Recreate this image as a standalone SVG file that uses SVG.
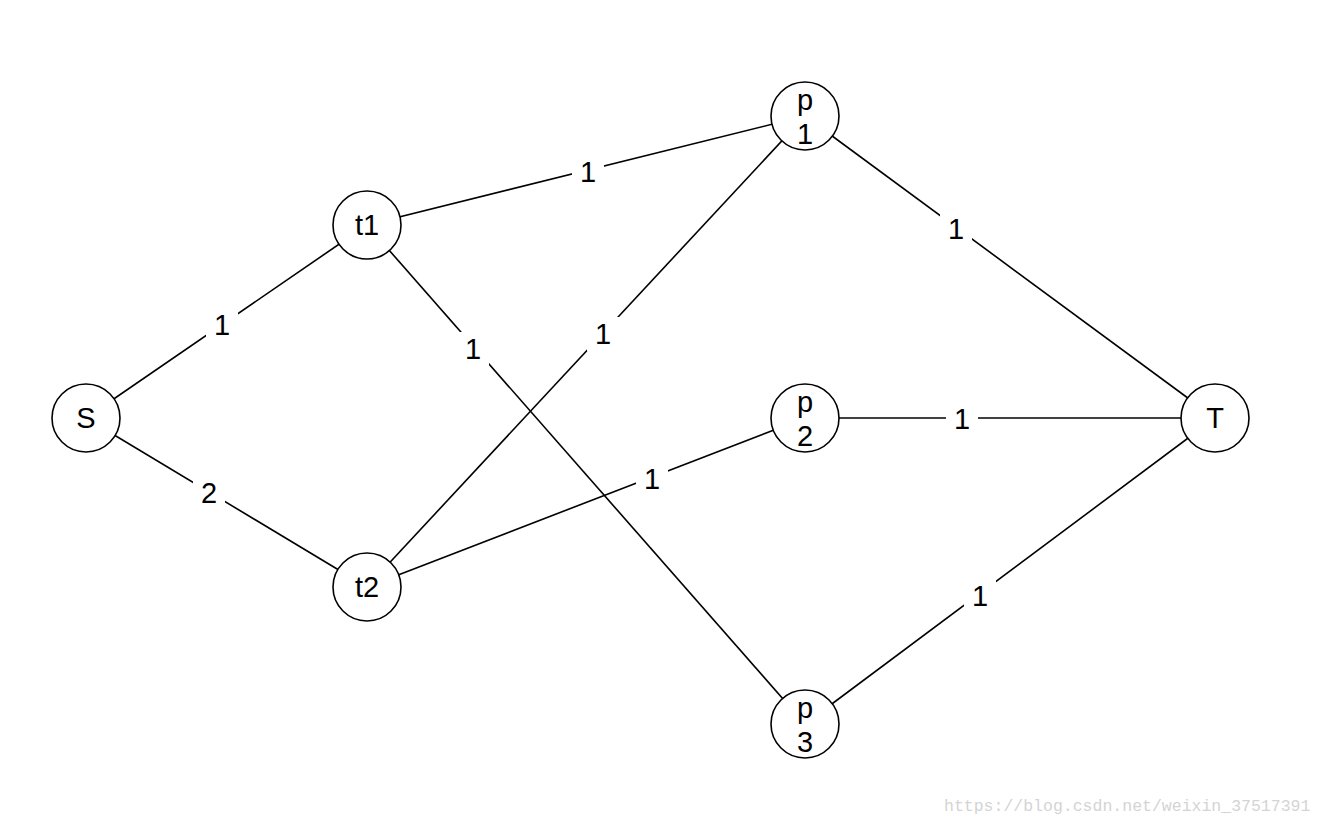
<svg xmlns="http://www.w3.org/2000/svg" width="1322" height="826" viewBox="0 0 1322 826">
<style>
.edge{stroke:#000;stroke-width:1.6;fill:none}
.node circle{fill:#fff;stroke:#000;stroke-width:1.6}
.lbl{font-family:"Liberation Sans",Arial,sans-serif;font-size:29px;fill:#000;text-anchor:middle}
.bg{fill:#fff}
.wm{font-family:"Liberation Mono","Courier New",monospace;font-size:16.5px;fill:#d4d4d4}
</style>
<rect width="1322" height="826" fill="#fff"/>
<g id="connectors">
<line class="edge" x1="86" y1="418" x2="367" y2="225"/>
<line class="edge" x1="86" y1="418" x2="367" y2="587"/>
<line class="edge" x1="367" y1="225" x2="805" y2="116"/>
<line class="edge" x1="367" y1="225" x2="805" y2="724"/>
<line class="edge" x1="367" y1="587" x2="805" y2="116"/>
<line class="edge" x1="367" y1="587" x2="805" y2="418"/>
<line class="edge" x1="805" y1="116" x2="1215" y2="418"/>
<line class="edge" x1="805" y1="418" x2="1215" y2="418"/>
<line class="edge" x1="805" y1="724" x2="1215" y2="418"/>
<g id="edge-labels">
<rect class="bg" x="206" y="308" width="32" height="34"/><text class="lbl" x="222" y="335">1</text>
<rect class="bg" x="193" y="476" width="32" height="34"/><text class="lbl" x="209" y="503">2</text>
<rect class="bg" x="572" y="155" width="32" height="34"/><text class="lbl" x="588" y="182">1</text>
<rect class="bg" x="457" y="332" width="32" height="34"/><text class="lbl" x="473" y="359">1</text>
<rect class="bg" x="587" y="317" width="32" height="34"/><text class="lbl" x="603" y="344">1</text>
<rect class="bg" x="636" y="462" width="32" height="34"/><text class="lbl" x="652" y="489">1</text>
<rect class="bg" x="940" y="212" width="32" height="34"/><text class="lbl" x="956" y="239">1</text>
<rect class="bg" x="946" y="402" width="32" height="34"/><text class="lbl" x="962" y="429">1</text>
<rect class="bg" x="964" y="579" width="32" height="34"/><text class="lbl" x="980" y="606">1</text>
</g>
</g>
<g id="S" class="node"><circle cx="86" cy="418" r="34"/><text class="lbl" x="86" y="428">S</text></g>
<g id="t1" class="node"><circle cx="367" cy="225" r="34"/><text class="lbl" x="367" y="235">t1</text></g>
<g id="t2" class="node"><circle cx="367" cy="587" r="34"/><text class="lbl" x="367" y="597">t2</text></g>
<g id="p1" class="node"><circle cx="805" cy="116" r="34"/><text class="lbl" x="805" y="110">p</text><text class="lbl" x="805" y="144">1</text></g>
<g id="p2" class="node"><circle cx="805" cy="418" r="34"/><text class="lbl" x="805" y="412">p</text><text class="lbl" x="805" y="446">2</text></g>
<g id="p3" class="node"><circle cx="805" cy="724" r="34"/><text class="lbl" x="805" y="718">p</text><text class="lbl" x="805" y="752">3</text></g>
<g id="T" class="node"><circle cx="1215" cy="418" r="34"/><text class="lbl" x="1215" y="428">T</text></g>
<text class="wm" x="944" y="811">https://blog.csdn.net/weixin_37517391</text>
</svg>
